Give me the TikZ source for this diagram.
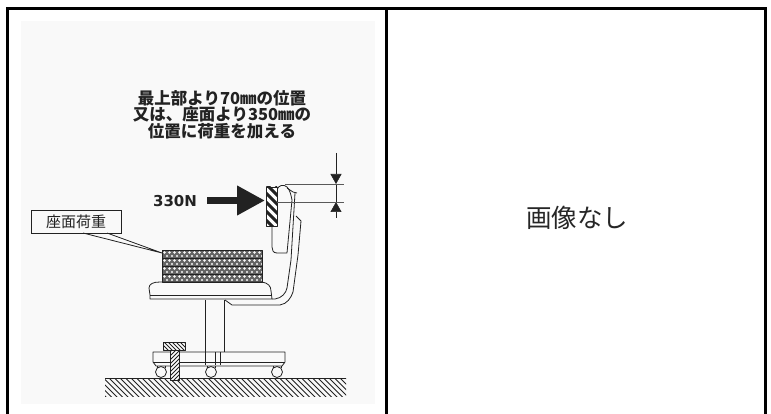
\documentclass[tikz,border=0pt]{standalone}
\usepackage{fontspec}
\usetikzlibrary{arrows.meta}
\newfontfamily\jpfont{Noto Sans CJK JP}
\newfontfamily\numfont{DejaVu Sans}
\definecolor{paper}{HTML}{F9F9F9}
\definecolor{ink}{HTML}{222222}
\begin{document}
\begin{tikzpicture}[x=1pt,y=-1pt]

  % Definitions
  \tikzstyle{border} = [draw=black, line width=3pt]
  \tikzstyle{chair} = [draw=ink, line width=0.8pt, line join=round]
  \tikzstyle{hatch} = [draw=ink, line width=1pt]
  \tikzstyle{coarse} = [draw=ink, line width=3pt]
  \tikzstyle{title} = [font=\jpfont\bfseries\fontsize{16.5}{18}\selectfont, text=ink, inner sep=0pt]
  \tikzstyle{seatlabel} = [rectangle, draw=ink, line width=0.8pt, minimum width=90pt, minimum height=23pt, inner sep=0pt, font=\jpfont\fontsize{15}{17}\selectfont, text=ink]
  \tikzstyle{force} = [draw=ink, line width=7pt, -{Triangle[length=28pt,width=28pt]}]
  \tikzstyle{dim} = [draw=ink, line width=0.6pt, -{Triangle[length=10pt,width=11pt]}]
  \tikzstyle{extline} = [draw=ink!75, line width=0.7pt]

  \useasboundingbox (0,0) rectangle (771,414);
  \fill[white] (0,0) rectangle (771,414);
  \fill[paper] (21,21) rectangle (375,404);

  % table lines
  \draw[border] (7.5,414) -- (7.5,8.5) -- (765.5,8.5) -- (765.5,414);
  \draw[border] (386,8) -- (386,414);

  % texts
  \node (line1) [title] at (222,98) {最上部より70㎜の位置};
  \node (line2) [title] at (222,114) {又は、座面より350㎜の};
  \node (line3) [title] at (222,131.5) {位置に荷重を加える};
  \node (load) [inner sep=0pt, text=ink, font=\numfont\bfseries\fontsize{15}{17}\selectfont] at (175,201) {330N};
  \node (seat) [seatlabel] at (76,221.5) {座面荷重};
  \node (noimage) [inner sep=0pt, font=\jpfont\fontsize{25.5}{28}\selectfont, text=black!85] at (577,218) {画像なし};

  % load stack
  \fill[ink!70] (162,250) rectangle (262,282);
  \foreach \row in {0,1,2,3}
    \foreach \col in {0,...,19} {
      \fill[paper] ({164.5+\col*5},{252.5+\row*8}) circle (1.3pt);
      \fill[paper] ({167+\col*5},{256+\row*8}) circle (1.2pt);
    }
  \foreach \row in {1,2,3}
    \draw[ink, line width=0.8pt] (162,{250+\row*8}) -- (262,{250+\row*8});
  \draw[chair] (162,250) rectangle (262,282);

  % seat
  \draw[chair] (150,295) -- (149,288) .. controls (149,284) and (153,282) .. (160,282) -- (262,282) .. controls (268,283) and (271,286) .. (271,291) -- (272,299) -- (150,299) -- cycle;
  \draw[chair] (150,295) -- (271.5,295);

  % back frame
  \draw[chair] (225,300) -- (232,305) -- (280,305) .. controls (287,304) and (291,298) .. (293,292) -- (298,255) -- (301,221) -- (296,216);
  \draw[chair] (272,299) -- (275,299) .. controls (282,298) and (286,293) .. (287,288) -- (291,260) -- (295,193);
  \draw[chair] (287,188) -- (293,192) -- (297,193);

  % back pad
  \draw[chair] (277,190) .. controls (278,185) and (284,184) .. (287,187) .. controls (290,190) and (291,195) .. (292,200) -- (287,253) -- (277,253) .. controls (273,253) and (272,250) .. (272,247) -- (272,226);

  % hatched block at the top of the back
  \begin{scope}
    \clip (266,187) rectangle (277,226);
    \fill[white] (266,187) rectangle (277,226);
    \foreach \i in {160,169,...,230}
      \draw[coarse] (260,\i) -- ++(24,24);
  \end{scope}
  \draw[chair] (266,187) rectangle (277,226);

  % post and base
  \draw[chair] (205.5,300) -- (205.5,365);
  \draw[chair] (224,300) -- (224,352);
  \draw[chair] (215,352) -- (215,365);
  \draw[chair] (220,352) -- (220,365);
  \draw[chair] (153,352) -- (285,352) -- (285,362) -- (282,366) -- (156,366) -- (153,362) -- cycle;
  \draw[chair] (153,362) -- (285,362);

  % wheels
  \foreach \pos/\name in {161/wheelA,211/wheelB,277/wheelC} {
    \node (\name) [circle, draw=ink, fill=paper, line width=0.8pt, minimum size=11pt, inner sep=0pt] at (\pos,372) {};
    \draw[chair] (\pos-4,366) -- (\pos-4,368);
    \draw[chair] (\pos+4,366) -- (\pos+4,368);
  }

  % floor
  \begin{scope}
    \clip (105,378) rectangle (346,396);
    \foreach \i in {85,90.5,...,350}
      \draw[hatch] (\i,376) -- ++(22,22);
  \end{scope}
  \draw[chair] (105,378) -- (346,378);

  % stopper
  \begin{scope}
    \clip (163.5,342) rectangle (185,350);
    \fill[white] (163.5,342) rectangle (185,350);
    \foreach \i in {150,154,...,190}
      \draw[hatch] (\i,340) -- ++(12,12);
  \end{scope}
  \draw[chair] (163.5,342) rectangle (185,350);
  \begin{scope}
    \clip (170,350) rectangle (179,380);
    \fill[white] (170,350) rectangle (179,380);
    \foreach \i in {350,354,...,395}
      \draw[hatch] (168,\i) -- ++(13,-13);
  \end{scope}
  \draw[chair] (170,350) rectangle (179,380);

  % connectors
  \coordinate (forcetail) at (207,200.5);
  \coordinate (forcetip) at (265,200.5);
  \draw[force] (forcetail) -- (forcetip);

  \coordinate (dimtop) at (336,153);
  \coordinate (dimA) at (336,184);
  \coordinate (dimbottom) at (336,218);
  \coordinate (dimB) at (336,202);
  \draw[dim] (dimtop) -- (dimA);
  \draw[dim] (dimbottom) -- (dimB);
  \draw[chair, line width=0.6pt] (dimA) -- (dimB);
  \coordinate (extA) at (285,184);
  \coordinate (extB) at (277,202);
  \draw[extline] (extA) -- (344,184);
  \draw[extline] (extB) -- (344,202);

  \coordinate (leaderA) at (83,233);
  \coordinate (leaderB) at (107,233);
  \coordinate (leaderend) at (162,253);
  \draw[chair] (leaderA) -- (leaderend) -- (leaderB);

\end{tikzpicture}
\end{document}
